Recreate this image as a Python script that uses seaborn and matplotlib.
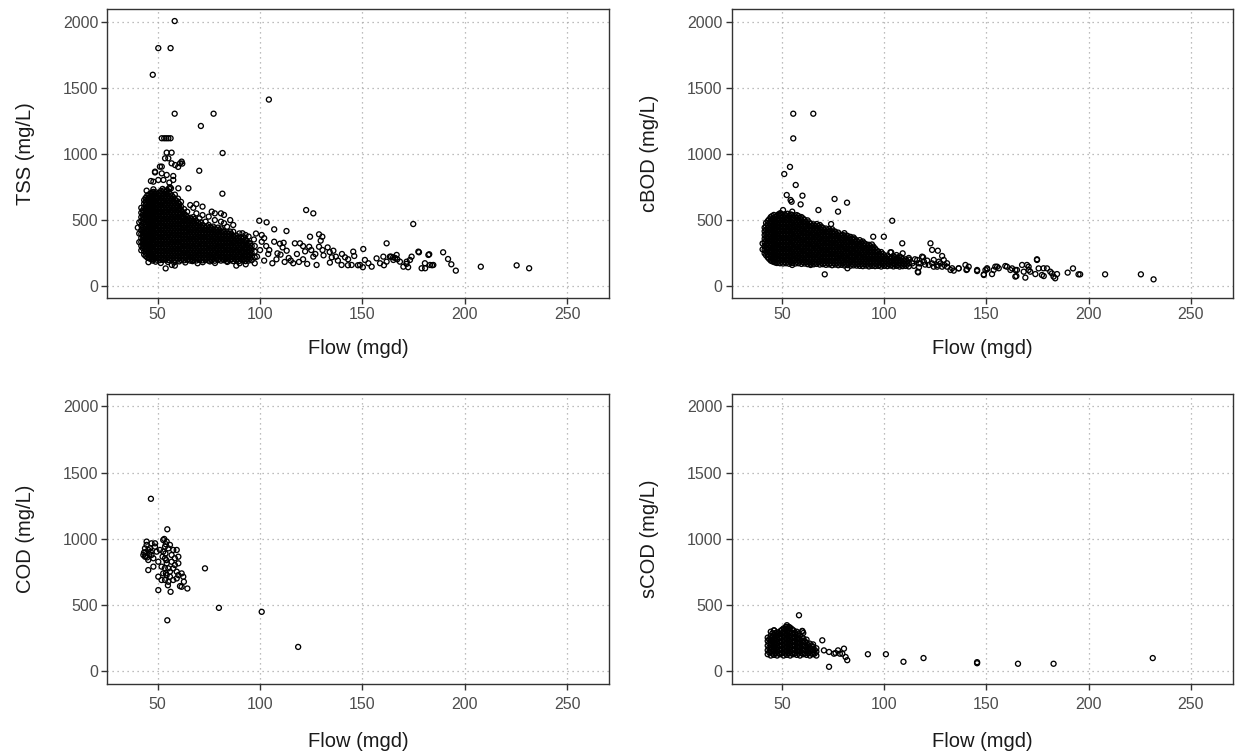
import matplotlib
matplotlib.use("Agg")
import matplotlib.pyplot as plt
import seaborn as sns
import pandas as pd

# ---------------- data ----------------
x_ticks = [50, 100, 150, 200, 250]
y_ticks = [0, 500, 1000, 1500, 2000]
panel_labels = ["TSS (mg/L)", "cBOD (mg/L)", "COD (mg/L)", "sCOD (mg/L)"]
x_label = "Flow (mgd)"

# TSS dense core: (flow, [values...]) columns
tss_core_a = [
    (40.3, [440]),
    (41.0, [330, 395, 480]),
    (42.0, [268, 302, 331, 362, 393, 421, 455, 488, 519, 553, 590]),
    (43.4, [236, 263, 291, 316, 347, 371, 402, 427, 456, 481, 512, 537, 566, 591, 622, 648]),
    (44.9, [214, 241, 266, 296, 321, 351, 377, 406, 431, 461, 487, 516, 541, 571, 597, 626, 653, 682]),
    (46.4, [204, 233, 257, 286, 311, 341, 367, 396, 421, 451, 477, 506, 531, 561, 587, 616, 641, 671, 696]),
    (47.9, [199, 226, 253, 279, 307, 333, 361, 387, 415, 441, 469, 495, 523, 549, 577, 603, 631, 657, 685, 711]),
    (49.4, [197, 224, 250, 277, 303, 330, 357, 383, 411, 437, 464, 491, 517, 545, 571, 599, 625, 653, 679, 706]),
    (50.9, [193, 221, 247, 274, 301, 327, 355, 381, 409, 435, 462, 489, 515, 543, 569, 597, 623, 651, 677, 704]),
    (52.4, [195, 222, 249, 275, 302, 329, 356, 383, 410, 436, 463, 490, 517, 544, 571, 598, 625, 652, 679, 706, 733]),
    (53.9, [131, 196, 223, 250, 277, 304, 331, 358, 385, 412, 439, 466, 493, 520, 547, 574, 601, 628, 655, 682, 709]),
    (55.4, [194, 221, 248, 275, 302, 329, 356, 383, 410, 437, 464, 491, 518, 545, 572, 599, 626, 653, 680, 707]),
    (56.9, [157, 197, 224, 251, 278, 305, 332, 359, 386, 413, 440, 467, 494, 521, 548, 575, 602, 629, 656, 683]),
    (58.4, [152, 195, 222, 249, 276, 303, 330, 357, 384, 411, 438, 465, 492, 519, 546, 573, 600, 627, 654, 690]),
    (59.9, [198, 225, 252, 279, 306, 333, 360, 387, 414, 441, 468, 495, 522, 549, 576, 603, 630, 660]),
    (61.4, [195, 222, 249, 276, 303, 330, 357, 384, 411, 438, 465, 492, 519, 546, 573, 600, 635]),
    (62.9, [192, 219, 247, 273, 301, 328, 354, 382, 409, 436, 462, 490, 517, 545, 580]),
    (64.4, [196, 223, 250, 276, 304, 331, 357, 385, 412, 438, 466, 493, 520, 560]),
    (65.9, [190, 218, 246, 272, 300, 327, 353, 381, 408, 434, 462, 489, 515, 611]),
    (67.4, [194, 221, 248, 275, 302, 329, 356, 383, 410, 437, 464, 491, 520, 590]),
    (68.9, [191, 219, 245, 273, 300, 326, 354, 380, 408, 435, 461, 489, 548, 619]),
    (70.4, [195, 222, 249, 276, 303, 330, 357, 384, 411, 438, 465, 510]),
    (71.9, [192, 220, 246, 274, 301, 327, 355, 382, 408, 436, 462, 535, 599]),
    (73.4, [194, 221, 248, 275, 302, 329, 356, 383, 410, 437, 485]),
    (74.9, [190, 218, 245, 272, 299, 326, 353, 380, 407, 434, 460, 523]),
    (76.4, [193, 220, 247, 274, 301, 328, 355, 382, 409, 436, 561]),
    (77.9, [189, 217, 244, 271, 298, 325, 352, 379, 406, 433, 497, 548]),
    (79.4, [195, 222, 249, 276, 303, 330, 357, 384, 411, 440]),
    (80.9, [190, 218, 245, 272, 299, 326, 353, 380, 407, 434, 485, 548]),
    (82.4, [193, 220, 247, 274, 301, 328, 355, 382, 409, 473, 536]),
    (83.9, [188, 216, 243, 270, 297, 324, 351, 378, 405, 447]),
    (85.4, [192, 219, 246, 273, 300, 327, 354, 381, 410, 497]),
    (86.9, [186, 214, 241, 268, 295, 322, 349, 376, 409, 460]),
    (88.4, [152, 191, 218, 245, 272, 299, 326, 353, 380]),
    (89.9, [188, 215, 242, 269, 296, 323, 350, 396]),
    (91.4, [192, 219, 246, 273, 300, 327, 355, 397]),
    (92.9, [186, 213, 240, 267, 294, 321, 350, 384]),
    (94.4, [190, 217, 244, 271, 298, 325, 372]),
    (95.9, [193, 220, 247, 274, 301]),
    (97.4, [170, 215, 258, 300]),
]
tss_core_b = [
    (42.7, [285, 316, 346, 377, 407, 438, 471, 503, 536, 570]),
    (44.1, [225, 250, 278, 304, 333, 359, 388, 414, 443, 469, 498, 524, 553, 580, 609, 636, 665]),
    (45.6, [209, 228, 254, 281, 308, 336, 364, 391, 418, 446, 473, 500, 528, 555, 583, 611, 638, 666, 690]),
    (47.1, [202, 218, 245, 272, 298, 326, 353, 381, 408, 436, 463, 491, 518, 546, 573, 601, 628, 656, 683, 705]),
    (48.6, [211, 238, 265, 292, 320, 347, 374, 401, 428, 456, 483, 510, 537, 564, 591, 618, 645, 672, 698]),
    (50.1, [208, 236, 262, 290, 316, 343, 370, 397, 424, 451, 478, 505, 532, 559, 586, 613, 640, 667, 692]),
    (51.6, [207, 234, 261, 288, 315, 342, 369, 396, 423, 450, 477, 504, 531, 558, 585, 612, 639, 666, 693, 718]),
    (53.1, [208, 236, 263, 290, 317, 344, 371, 398, 425, 452, 479, 506, 533, 560, 587, 614, 641, 668, 695, 722]),
    (54.6, [207, 235, 262, 289, 316, 343, 370, 397, 424, 451, 478, 505, 532, 559, 586, 613, 640, 667, 694, 722]),
    (56.1, [209, 236, 263, 290, 317, 344, 371, 398, 425, 452, 479, 506, 533, 560, 587, 614, 641, 668, 695]),
    (57.6, [210, 237, 264, 291, 318, 345, 372, 399, 426, 453, 480, 507, 534, 561, 588, 615, 642, 670]),
    (59.1, [209, 236, 263, 290, 317, 344, 371, 398, 425, 452, 479, 506, 533, 560, 587, 614, 645]),
    (60.6, [210, 237, 264, 291, 318, 345, 372, 399, 426, 453, 480, 507, 534, 561, 588, 618]),
    (62.1, [206, 233, 260, 287, 314, 341, 368, 395, 422, 449, 476, 503, 530, 560]),
    (63.6, [207, 234, 261, 288, 315, 342, 369, 396, 423, 450, 477, 505, 535]),
    (65.1, [204, 231, 258, 285, 312, 339, 366, 393, 420, 447, 474, 500]),
    (66.6, [205, 232, 259, 286, 313, 340, 367, 394, 421, 448, 475, 503]),
    (68.1, [206, 233, 260, 287, 314, 341, 368, 395, 422, 449, 476, 505]),
    (69.6, [207, 234, 261, 288, 315, 342, 369, 396, 423, 450, 478]),
    (71.1, [206, 233, 260, 287, 314, 341, 368, 395, 422, 449, 480]),
    (72.6, [207, 234, 261, 288, 315, 342, 369, 396, 423, 450]),
    (74.1, [206, 233, 260, 287, 314, 341, 368, 395, 422, 450]),
    (75.6, [205, 232, 259, 286, 313, 340, 367, 394, 421, 445]),
    (77.1, [204, 231, 258, 285, 312, 339, 366, 393, 420, 448]),
    (78.6, [207, 234, 261, 288, 315, 342, 369, 396, 425]),
    (80.1, [204, 231, 258, 285, 312, 339, 366, 393, 420]),
    (81.6, [206, 233, 260, 287, 314, 341, 368, 395, 418]),
    (83.1, [203, 230, 257, 284, 311, 338, 365, 392]),
    (84.6, [205, 232, 259, 286, 313, 340, 367, 393]),
    (86.1, [201, 228, 255, 282, 309, 336, 363, 390]),
    (87.6, [204, 231, 258, 285, 312, 339, 366]),
    (89.1, [201, 228, 255, 282, 309, 336, 362]),
    (90.6, [203, 230, 257, 284, 311, 338, 368]),
    (92.1, [200, 227, 254, 281, 308, 336, 365]),
    (93.6, [202, 229, 256, 283, 310, 338]),
    (95.1, [205, 232, 259, 286, 320]),
]
tss_high = [
    (58.3, 2005), (50.3, 1800), (56.3, 1800), (47.6, 1598), (58.3, 1303), (77.3, 1303),
    (71.1, 1210), (104.3, 1410), (52.0, 1117), (53.2, 1117), (54.2, 1117), (55.2, 1117),
    (56.3, 1117), (81.7, 1005), (54.4, 1008), (56.8, 1008), (53.6, 965), (55.2, 965),
    (56.8, 927), (58.5, 914), (60.9, 927), (61.7, 940), (51.1, 902), (48.7, 864),
    (52.0, 851), (54.4, 839), (57.6, 831), (70.3, 871), (46.7, 793), (50.3, 801),
    (52.8, 801), (55.7, 781), (57.6, 801), (47.9, 788), (48.7, 858), (52.0, 902),
    (55.5, 738), (56.0, 745), (56.5, 738), (60.1, 738), (65.0, 738), (81.6, 697),
    (44.6, 720), (47.9, 730), (62.0, 925), (60.0, 900),
]
tss_low_edge = [
    (45.5, 178), (49.0, 182), (51.5, 172), (55.0, 180), (60.5, 184), (63.5, 176),
    (67.0, 186), (72.0, 178), (78.0, 172), (84.0, 180), (90.0, 170), (93.0, 162),
    (47.5, 190), (58.0, 176), (69.5, 170), (75.5, 184),
]
tss_tail = [
    (99.6, 492), (103.2, 480), (106.9, 427), (112.9, 414), (100.8, 384), (100.8, 333),
    (106.9, 333), (109.7, 318), (117.0, 321), (119.5, 321), (124.4, 371), (128.8, 389),
    (130.4, 371), (129.6, 341), (124.0, 295), (125.0, 270), (126.0, 220), (128.8, 295),
    (130.5, 270), (131.0, 230), (133.0, 290), (134.0, 255), (135.0, 215), (127.6, 157),
    (134.1, 175), (139.8, 157), (141.5, 215), (144.7, 157), (145.5, 258), (148.8, 157),
    (150.4, 278), (151.2, 195), (152.9, 170), (154.5, 144), (156.9, 207), (158.6, 170),
    (160.2, 220), (161.8, 321), (161.8, 182), (163.4, 220), (165.1, 195), (166.7, 233),
    (168.3, 182), (170.0, 144), (171.6, 182), (174.0, 220), (177.3, 258), (178.9, 132),
    (180.5, 170), (182.2, 233), (183.0, 157), (184.6, 157), (174.8, 467), (122.5, 573),
    (126.0, 548), (135.8, 265), (142.9, 155), (147.8, 155), (150.2, 140), (160.5, 155),
    (164.0, 220), (165.0, 215), (166.0, 210), (167.0, 200), (171.5, 165), (172.3, 140),
    (173.2, 195), (177.6, 253), (180.6, 132), (182.6, 238), (184.0, 155), (189.4, 253),
    (191.8, 202), (193.4, 162), (195.6, 114), (207.8, 144), (225.3, 154), (231.4, 132),
    (116.2, 170), (119.0, 180), (114.0, 210), (112.0, 180), (108.0, 200), (104.0, 240),
    (102.0, 190), (100.0, 270), (98.5, 220), (106.0, 170), (110.0, 235), (113.0, 265),
    (115.0, 190), (118.0, 240), (121.0, 200), (122.0, 260), (123.0, 165), (127.0, 240),
    (137.0, 220), (138.0, 190), (140.0, 240), (143.0, 200), (146.0, 225), (121.0, 300),
    (111.0, 290), (103.0, 300), (97.0, 350), (98.0, 395), (102.0, 360), (104.5, 270),
    (108.5, 245), (111.5, 325),
]

# cBOD
cbod_core_a = [
    (40.5, [275, 320]),
    (41.5, [245, 272, 300, 328, 356, 384, 412, 440]),
    (43.0, [215, 242, 270, 297, 325, 352, 380, 407, 435, 462, 490]),
    (44.5, [190, 218, 245, 272, 300, 327, 355, 382, 410, 437, 465, 492, 520]),
    (46.0, [180, 207, 234, 262, 289, 317, 344, 372, 399, 427, 454, 482, 509, 536]),
    (47.5, [172, 200, 227, 255, 282, 310, 337, 365, 392, 420, 447, 475, 502, 530]),
    (49.0, [170, 197, 225, 252, 280, 307, 335, 362, 390, 417, 445, 472, 500, 527, 548]),
    (50.5, [168, 195, 223, 250, 278, 305, 333, 360, 388, 415, 443, 470, 498, 525, 573]),
    (52.0, [170, 198, 225, 253, 280, 308, 335, 363, 390, 418, 445, 473, 500, 532]),
    (53.5, [166, 194, 221, 249, 276, 304, 331, 359, 386, 414, 441, 469, 496, 530]),
    (55.0, [157, 172, 200, 227, 255, 282, 310, 337, 365, 392, 420, 447, 475, 502, 536, 561]),
    (56.5, [168, 196, 223, 251, 278, 306, 333, 361, 388, 416, 443, 471, 498, 525]),
    (58.0, [170, 198, 225, 253, 280, 308, 335, 363, 390, 418, 445, 473, 500, 528]),
    (59.5, [165, 193, 220, 248, 275, 303, 330, 358, 385, 413, 440, 468, 495, 520]),
    (61.0, [168, 196, 223, 251, 278, 306, 333, 361, 388, 416, 443, 471, 500]),
    (62.5, [163, 191, 218, 246, 273, 301, 328, 356, 383, 411, 438, 466, 495]),
    (64.0, [157, 166, 194, 221, 249, 276, 304, 331, 359, 386, 414, 441, 470]),
    (65.5, [162, 190, 217, 245, 272, 300, 327, 355, 382, 410, 437, 465]),
    (67.0, [165, 193, 220, 248, 275, 303, 330, 358, 385, 413, 440, 467]),
    (68.5, [160, 188, 215, 243, 270, 298, 325, 353, 380, 408, 435, 460]),
    (70.0, [163, 191, 218, 246, 273, 301, 328, 356, 383, 411, 438]),
    (71.5, [158, 186, 213, 241, 268, 296, 323, 351, 378, 406, 433]),
    (73.0, [161, 189, 216, 244, 271, 299, 326, 354, 381, 409, 430]),
    (74.5, [155, 184, 211, 239, 266, 294, 321, 349, 376, 404, 428]),
    (76.0, [160, 187, 215, 242, 270, 297, 325, 352, 380, 410]),
    (77.5, [155, 182, 210, 237, 265, 292, 320, 347, 375, 402]),
    (79.0, [158, 186, 213, 241, 268, 296, 323, 351, 380]),
    (80.5, [153, 181, 208, 236, 263, 291, 318, 346, 373, 398]),
    (82.0, [132, 156, 184, 211, 239, 266, 294, 321, 349, 378]),
    (83.5, [151, 179, 206, 234, 261, 289, 316, 344, 370]),
    (85.0, [154, 182, 209, 237, 264, 292, 319, 347, 365]),
    (86.5, [152, 177, 204, 232, 259, 287, 314, 342]),
    (88.0, [150, 180, 207, 235, 262, 290, 317, 345]),
    (89.5, [148, 175, 202, 230, 257, 285, 312, 335]),
    (91.0, [152, 178, 205, 233, 260, 288, 315]),
    (92.5, [146, 173, 200, 228, 255, 283, 310]),
    (94.0, [150, 176, 203, 231, 258, 286, 312]),
    (95.5, [148, 172, 199, 227, 254, 282]),
    (97.0, [150, 178, 205, 232, 260]),
    (98.5, [145, 172, 200, 228, 255]),
    (100.0, [150, 176, 203, 230]),
    (101.5, [148, 175, 200, 228]),
    (103.0, [152, 180, 207, 253]),
    (104.5, [146, 172, 198, 225]),
    (106.0, [150, 178, 205, 232]),
    (107.5, [145, 170, 196, 222]),
    (109.0, [148, 175, 202, 245]),
    (110.5, [150, 176, 200]),
    (112.0, [146, 172, 198, 210]),
]
cbod_core_b = [
    (42.2, [230, 256, 284, 312, 340, 368, 396, 424, 450, 475]),
    (43.7, [203, 228, 256, 284, 311, 338, 366, 394, 421, 448, 476, 503]),
    (45.2, [185, 204, 231, 258, 286, 313, 341, 368, 396, 423, 451, 478, 506, 528]),
    (46.7, [176, 193, 220, 248, 275, 303, 330, 358, 385, 413, 440, 468, 495, 522]),
    (48.2, [184, 212, 239, 267, 294, 322, 349, 377, 404, 432, 459, 487, 514, 540]),
    (49.7, [182, 210, 237, 265, 292, 320, 347, 375, 402, 430, 457, 485, 512, 537]),
    (51.2, [181, 209, 236, 264, 291, 319, 346, 374, 401, 429, 456, 484, 511, 540]),
    (52.7, [183, 211, 238, 266, 293, 321, 348, 376, 403, 431, 458, 486, 514, 545]),
    (54.2, [180, 207, 235, 262, 290, 317, 345, 372, 400, 427, 455, 482, 512, 540]),
    (55.7, [185, 213, 240, 268, 295, 323, 350, 378, 405, 433, 460, 488, 515]),
    (57.2, [182, 210, 237, 265, 292, 320, 347, 375, 402, 430, 457, 485, 512, 535]),
    (58.7, [183, 211, 238, 266, 293, 321, 348, 376, 403, 431, 458, 486, 514]),
    (60.2, [180, 207, 235, 262, 290, 317, 345, 372, 400, 427, 455, 482, 510]),
    (61.7, [179, 207, 234, 262, 289, 317, 344, 372, 399, 427, 454, 482]),
    (63.2, [177, 204, 232, 259, 287, 314, 342, 369, 397, 424, 452, 480]),
    (64.7, [176, 204, 231, 259, 286, 314, 341, 369, 396, 424, 452]),
    (66.2, [176, 203, 231, 258, 286, 313, 341, 368, 396, 423, 451]),
    (67.7, [178, 206, 233, 261, 288, 316, 343, 371, 398, 426, 452]),
    (69.2, [174, 202, 229, 257, 284, 312, 339, 367, 394, 422, 447]),
    (70.7, [172, 200, 227, 255, 282, 310, 337, 365, 392, 420]),
    (72.2, [174, 202, 229, 257, 284, 312, 339, 367, 394, 418]),
    (73.7, [170, 198, 225, 253, 280, 308, 335, 363, 390, 416]),
    (75.2, [172, 200, 227, 255, 282, 310, 337, 365, 392, 412]),
    (76.7, [170, 197, 225, 252, 280, 307, 335, 362, 390]),
    (78.2, [168, 196, 223, 251, 278, 306, 333, 361, 388]),
    (79.7, [170, 198, 225, 253, 280, 308, 335, 363, 385]),
    (81.2, [166, 194, 221, 249, 276, 304, 331, 359, 380]),
    (82.7, [168, 196, 223, 251, 278, 306, 333, 360]),
    (84.2, [165, 193, 220, 248, 275, 303, 330, 356]),
    (85.7, [167, 195, 222, 250, 277, 305, 332, 352]),
    (87.2, [164, 191, 219, 246, 274, 301, 329]),
    (88.7, [162, 190, 217, 245, 272, 300, 327]),
    (90.2, [164, 190, 218, 245, 273, 300, 322]),
    (91.7, [160, 187, 215, 242, 270, 297]),
    (93.2, [162, 189, 217, 244, 272, 298]),
    (94.7, [160, 188, 215, 243, 270, 296]),
    (96.2, [162, 190, 217, 245, 268]),
    (97.7, [158, 186, 213, 240]),
    (99.2, [162, 189, 216, 242]),
    (100.7, [160, 187, 213]),
    (102.2, [162, 190, 216]),
    (103.7, [158, 186, 212]),
    (105.2, [162, 190, 216]),
    (106.7, [157, 184, 210]),
    (108.2, [160, 187, 214]),
    (109.7, [162, 188]),
    (111.2, [160, 186]),
]
cbod_high = [
    (55.5, 1303), (65.3, 1303), (55.5, 1116), (53.9, 900), (51.1, 846), (56.7, 763),
    (52.3, 687), (54.2, 649), (54.7, 636), (60.0, 682), (59.1, 616), (67.8, 573),
    (75.7, 657), (77.4, 561), (81.8, 629), (74.0, 467), (49.4, 548), (103.9, 492),
    (94.6, 371), (99.8, 371), (108.8, 321), (122.6, 321), (126.2, 265), (128.3, 225),
    (103.4, 253), (116.6, 101), (70.9, 86), (208.0, 86), (225.5, 86), (231.7, 48),
    (195.0, 86), (195.8, 86),
]
cbod_tail = [
    (183.6, 56), (184.5, 88), (182.0, 93), (179.6, 131), (178.0, 73), (174.7, 195),
    (175.5, 131), (173.9, 88), (169.8, 157), (170.6, 119), (169.0, 61), (167.4, 157),
    (164.6, 73), (164.1, 119), (162.5, 131), (161.7, 119), (160.0, 144), (159.2, 149),
    (155.2, 144), (153.5, 119), (152.7, 88), (150.3, 124), (149.5, 119), (148.7, 86),
    (145.4, 111), (141.3, 144), (139.7, 157), (140.2, 119), (136.4, 131), (134.0, 114),
    (132.4, 119), (130.7, 144), (129.4, 157), (127.5, 169), (125.9, 157), (124.2, 144),
    (123.4, 169), (121.8, 157), (119.4, 182), (118.5, 220), (117.7, 169), (116.1, 195),
    (113.7, 169), (189.7, 99), (192.3, 131), (119.0, 215), (116.9, 170), (116.4, 106),
    (123.4, 271), (124.2, 195), (126.7, 182), (129.1, 195), (130.7, 170), (128.3, 144),
    (125.9, 144), (133.2, 132), (136.4, 132), (140.5, 124), (145.4, 119), (148.7, 81),
    (150.3, 132), (154.3, 144), (156.0, 132), (164.9, 119), (164.1, 69), (168.2, 106),
    (170.6, 144), (171.4, 106), (174.7, 200), (177.1, 81), (177.9, 132), (181.2, 106),
    (182.8, 69), (114.5, 150), (115.0, 200), (117.0, 140), (120.0, 160), (121.0, 190),
]

# COD
cod_pts = [
    (46.7, 1303), (54.7, 1073), (73.1, 778), (79.9, 480), (100.8, 450), (54.7, 386),
    (118.6, 185), (50.3, 614), (56.3, 601), (64.5, 626), (60.9, 644), (62.5, 715),
    (59.3, 702), (60.1, 727), (57.6, 778), (51.9, 690), (50.3, 715), (52.7, 740),
    (45.4, 765), (47.9, 791), (44.6, 980), (47.0, 967), (43.8, 866), (43.0, 879),
    (45.4, 917), (46.2, 929), (48.7, 942), (49.5, 904), (47.0, 879), (47.9, 854),
    (45.4, 841), (50.3, 828), (48.7, 967), (52.7, 992), (54.4, 980), (53.6, 942),
    (55.2, 929), (52.7, 904), (56.0, 955), (57.6, 917), (56.8, 879), (59.3, 917),
    (58.4, 854), (60.1, 866), (53.6, 854), (54.4, 816), (51.9, 791), (55.2, 778),
    (56.0, 753), (58.4, 803), (56.8, 828), (60.1, 816), (53.6, 690), (55.2, 677),
    (56.0, 715), (57.6, 690), (54.4, 727), (59.3, 753), (61.7, 740), (52.4, 866),
    (51.1, 917), (43.3, 897), (44.3, 871), (44.9, 861), (45.9, 886), (43.8, 929),
    (46.6, 904), (44.6, 955), (61.7, 639), (62.8, 677), (53.2, 1000), (54.0, 960),
    (53.8, 890), (54.2, 840), (53.5, 780), (54.0, 740), (55.0, 650), (44.0, 900),
]

# sCOD
scod_core_a = [
    (43.0, [130, 160, 195, 230, 255]),
    (44.5, [120, 150, 180, 210, 240, 270, 300]),
    (46.1, [125, 155, 185, 215, 245, 275, 310]),
    (47.6, [120, 150, 180, 210, 240, 270, 295]),
    (49.2, [130, 160, 190, 220, 250, 280, 305]),
    (50.8, [120, 150, 180, 210, 240, 270, 300, 325]),
    (52.4, [125, 155, 185, 215, 245, 275, 305, 336, 349]),
    (54.0, [120, 150, 180, 210, 240, 270, 300, 330]),
    (55.6, [130, 160, 190, 220, 250, 280, 310]),
    (57.2, [125, 155, 185, 215, 245, 275, 300]),
    (58.8, [120, 150, 180, 210, 240, 270]),
    (60.4, [130, 160, 190, 220, 250, 290]),
    (62.0, [125, 155, 185, 215, 240]),
    (63.6, [120, 150, 180, 210]),
    (65.2, [130, 160, 185, 204]),
    (66.8, [120, 150, 175]),
]
scod_core_b = [
    (43.7, [145, 178, 212, 243]),
    (45.3, [135, 168, 198, 228, 258, 288]),
    (46.8, [138, 168, 198, 228, 258, 290]),
    (48.4, [135, 165, 195, 225, 255, 285]),
    (50.0, [138, 168, 198, 228, 258, 290, 315]),
    (51.6, [135, 165, 195, 225, 255, 288, 320]),
    (53.2, [138, 168, 198, 228, 258, 290, 322]),
    (54.8, [135, 165, 195, 225, 255, 290, 320]),
    (56.4, [138, 168, 198, 228, 262, 292]),
    (58.0, [135, 165, 195, 225, 255, 285]),
    (59.6, [138, 168, 198, 228, 260]),
    (61.2, [135, 165, 195, 228]),
    (62.8, [138, 168, 198]),
    (64.4, [135, 165, 195]),
    (66.0, [135, 162]),
]
scod_pts = [
    (58.3, 424), (59.9, 306), (69.7, 235), (73.0, 35), (70.5, 159), (73.0, 147),
    (75.4, 134), (77.4, 159), (79.5, 134), (80.3, 172), (81.1, 109), (81.9, 85),
    (92.0, 130), (100.8, 130), (109.4, 73), (119.2, 101), (145.4, 70), (145.4, 62),
    (165.4, 58), (182.8, 58), (231.3, 101), (76.2, 139), (78.3, 134), (51.8, 336),
    (53.4, 336), (46.1, 310), (60.0, 303),
]


def build(col_lists, pt_lists):
    rows = []
    for cols in col_lists:
        for fx, vals in cols:
            for v in vals:
                rows.append((fx, v))
    for pl in pt_lists:
        rows.extend(pl)
    return pd.DataFrame(rows, columns=["flow", "value"])


frames = [
    build([tss_core_a, tss_core_b], [tss_high, tss_low_edge, tss_tail]),
    build([cbod_core_a, cbod_core_b], [cbod_high, cbod_tail]),
    build([], [cod_pts]),
    build([scod_core_a, scod_core_b], [scod_pts]),
]

# ---------------- figure ----------------
sns.set_style("white")
plt.rcParams["font.family"] = ["Liberation Sans", "DejaVu Sans"]

W, H = 1235, 755
fig = plt.figure(figsize=(W / 100, H / 100), dpi=100)

boxes = [  # left, top, right, bottom in pixels
    (107.3, 9.3, 609.0, 297.7),
    (731.7, 9.3, 1232.7, 297.7),
    (107.3, 394.0, 609.0, 683.5),
    (731.7, 394.0, 1232.7, 683.5),
]
tick_pads = [2.5, 2.5, 5.5, 5.5]
xlab_pads = [12.5, 12.5, 14.5, 14.5]

frame_col = "#333333"
for i, (df, lab, (l, t, r, b)) in enumerate(zip(frames, panel_labels, boxes)):
    ax = fig.add_axes([l / W, 1 - b / H, (r - l) / W, (b - t) / H])
    sns.scatterplot(data=df, x="flow", y="value", ax=ax, marker="o", s=13,
                    facecolors="none", edgecolor="black", linewidth=0.95,
                    legend=False, zorder=3)
    for coll in ax.collections:
        coll.set_facecolor("none")
        coll.set_edgecolor("black")
    ax.set_xlim(25.4, 270.4)
    ax.set_ylim(-91, 2094)
    ax.set_xticks(x_ticks)
    ax.set_yticks(y_ticks)
    ax.grid(True, color="#a8a8a8", linestyle=(0, (1, 3)), linewidth=0.9, zorder=0)
    ax.set_axisbelow(True)
    for sp in ax.spines.values():
        sp.set_visible(True)
        sp.set_color(frame_col)
        sp.set_linewidth(1.0)
    ax.tick_params(axis="both", which="major", length=4, width=1.0, color=frame_col,
                   labelsize=11.5, labelcolor="#4d4d4d", direction="out", pad=2.5)
    ax.tick_params(axis="x", pad=tick_pads[i])
    ax.tick_params(left=True, bottom=True)
    ax.set_xlabel(x_label, fontsize=14.5, color="#1a1a1a", labelpad=xlab_pads[i])
    ax.set_ylabel(lab, fontsize=14.5, color="#1a1a1a", labelpad=20)

fig.savefig("out.png", dpi=100, facecolor="white")
